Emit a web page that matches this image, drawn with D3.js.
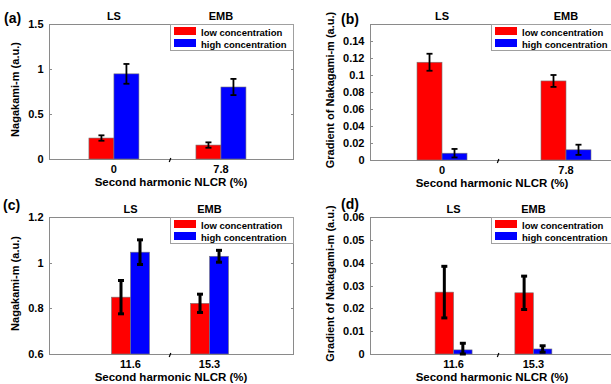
<!DOCTYPE html>
<html>
<head>
<meta charset="utf-8">
<script src="https://cdn.jsdelivr.net/npm/d3@7"></script>
<style>
  body { margin: 0; background: #fff; }
  svg { display: block; font-family: "Liberation Sans", Arial, sans-serif; font-weight: bold; }
</style>
</head>
<body>
<svg id="chart" width="611" height="384"></svg>
<script>
// shared labels
var groups = ["LS", "EMB"];
var seriesNames = ["low concentration", "high concentration"];
var colors = ["#ff0000", "#0000ff"];

// (a) Nagakami-m
var aTicks = ["0", "7.8"];
var aLow = [0.233, 0.155], aLowErr = [0.03, 0.03];
var aHigh = [0.946, 0.800], aHighErr = [0.11, 0.09];
var aY = [0, 0.5, 1, 1.5];

// (b) gradient of Nakagami-m
var bTicks = ["0", "7.8"];
var bLow = [0.115, 0.093], bLowErr = [0.01, 0.007];
var bHigh = [0.008, 0.012], bHighErr = [0.005, 0.006];
var bY = [0, 0.02, 0.04, 0.06, 0.08, 0.1, 0.12, 0.14];

// (c) Nagakami-m
var cTicks = ["11.6", "15.3"];
var cLow = [0.849, 0.822], cLowErr = [0.073, 0.04];
var cHigh = [1.046, 1.028], cHighErr = [0.054, 0.026];
var cY = [0.6, 0.8, 1, 1.2];

// (d) gradient of Nakagami-m
var dTicks = ["11.6", "15.3"];
var dLow = [0.0271, 0.0268], dLowErr = [0.0113, 0.0073];
var dHigh = [0.0018, 0.0022], dHighErr = [0.0029, 0.0014];
var dY = [0, 0.01, 0.02, 0.03, 0.04, 0.05, 0.06];

var svg = d3.select("#chart");
var axisGray = "#8a8a8a";

var panels = [
  { tag: "(a)", tagX: 4, tagY: 23, l: 49, t: 24, r: 293, b: 159, dom: [0, 1.5], yt: aY, ticks: aTicks,
    low: aLow, lowErr: aLowErr, high: aHigh, highErr: aHighErr, pad: 0.64, align: 0.474, bw: 25,
    ew: 1.8, ylab: "Nagakami-m (a.u.)", ylabX: 15, brk: 0.496 },
  { tag: "(b)", tagX: 341, tagY: 24, l: 370, t: 24, r: 614, b: 160, dom: [0, 0.16], yt: bY, ticks: bTicks,
    low: bLow, lowErr: bLowErr, high: bHigh, highErr: bHighErr, pad: 0.484, align: 0.6, bw: 25,
    ew: 1.8, ylab: "Gradient of Nakagami-m (a.u.)", ylabX: 330, brk: 0.525 },
  { tag: "(c)", tagX: 3, tagY: 210, l: 49, t: 217, r: 293, b: 354, dom: [0.6, 1.2], yt: cY, ticks: cTicks,
    low: cLow, lowErr: cLowErr, high: cHigh, highErr: cHighErr, pad: 1.044, align: 0.494, bw: 19,
    ew: 3, ylab: "Nagakami-m (a.u.)", ylabX: 15, brk: 0.496 },
  { tag: "(d)", tagX: 341, tagY: 209, l: 370, t: 217, r: 614, b: 354, dom: [0, 0.06], yt: dY, ticks: dTicks,
    low: dLow, lowErr: dLowErr, high: dHigh, highErr: dHighErr, pad: 1.029, align: 0.509, bw: 18.5,
    ew: 3, ylab: "Gradient of Nakagami-m (a.u.)", ylabX: 330, brk: 0.525 }
];

panels.forEach(drawPanel);

function drawPanel(p) {
  var g = svg.append("g");
  var x = d3.scalePoint().domain(groups).range([p.l, p.r]).padding(p.pad).align(p.align);
  var y = d3.scaleLinear().domain(p.dom).range([p.b, p.t]);

  // frame
  g.append("rect")
    .attr("x", p.l + 0.5).attr("y", p.t + 0.5)
    .attr("width", p.r - p.l).attr("height", p.b - p.t)
    .attr("fill", "none").attr("stroke", axisGray).attr("stroke-width", 1);

  // y axis, ticks inward on both sides
  var yAxis = d3.axisLeft(y).tickValues(p.yt).tickFormat(d3.format("~g")).tickSize(0).tickPadding(6);
  var ya = g.append("g").attr("transform", "translate(" + (p.l + 0.5) + ",0)").call(yAxis);
  ya.select(".domain").remove();
  ya.selectAll("text").attr("font-size", 11).attr("font-weight", "bold")
    .attr("font-family", "'Liberation Sans', Arial, sans-serif").attr("fill", "#000");
  g.selectAll(".ytk").data(p.yt).enter().append("path")
    .attr("d", function(d) {
      var yy = Math.round(y(d)) + 0.5;
      return "M" + p.l + "," + yy + "h3M" + (p.r + 1) + "," + yy + "h-3";
    })
    .attr("stroke", axisGray);

  // bars
  var rows = [];
  groups.forEach(function(grp, i) {
    rows.push({ g: grp, s: 0, v: p.low[i], e: p.lowErr[i] });
    rows.push({ g: grp, s: 1, v: p.high[i], e: p.highErr[i] });
  });
  var base = y(p.dom[0]);
  g.selectAll(".bar").data(rows).enter().append("rect")
    .attr("x", function(d) { return d.s === 0 ? x(d.g) - p.bw : x(d.g); })
    .attr("y", function(d) { return y(d.v); })
    .attr("width", p.bw)
    .attr("height", function(d) { return base - y(d.v); })
    .attr("fill", function(d) { return colors[d.s]; })
    .attr("stroke", "#777").attr("stroke-width", 0.6);

  // error bars
  var eb = g.selectAll(".err").data(rows).enter().append("g")
    .attr("stroke", "#000").attr("stroke-width", p.ew);
  function cx(d) { return d.s === 0 ? x(d.g) - p.bw / 2 : x(d.g) + p.bw / 2; }
  eb.append("line")
    .attr("x1", cx).attr("x2", cx)
    .attr("y1", function(d) { return y(d.v + d.e); })
    .attr("y2", function(d) { return Math.min(base, y(d.v - d.e)); });
  eb.append("line")
    .attr("x1", function(d) { return cx(d) - 3; }).attr("x2", function(d) { return cx(d) + 3; })
    .attr("y1", function(d) { return y(d.v + d.e); }).attr("y2", function(d) { return y(d.v + d.e); });
  eb.append("line")
    .attr("x1", function(d) { return cx(d) - 3; }).attr("x2", function(d) { return cx(d) + 3; })
    .attr("y1", function(d) { return Math.min(base, y(d.v - d.e)); })
    .attr("y2", function(d) { return Math.min(base, y(d.v - d.e)); });

  // axis break mark
  var bx = p.l + (p.r - p.l) * p.brk;
  g.append("line")
    .attr("x1", bx - 0.8).attr("x2", bx + 0.8)
    .attr("y1", p.b + 3).attr("y2", p.b - 1)
    .attr("stroke", "#000").attr("stroke-width", 1.2);

  // x tick labels
  g.selectAll(".xl").data(groups).enter().append("text")
    .attr("x", function(d) { return x(d); })
    .attr("y", p.b + 13.5)
    .attr("text-anchor", "middle").attr("font-size", 11)
    .text(function(d, i) { return p.ticks[i]; });

  // group names above
  g.selectAll(".gn").data(groups).enter().append("text")
    .attr("x", function(d) { return x(d); })
    .attr("y", p.t - 4)
    .attr("text-anchor", "middle").attr("font-size", 11)
    .text(function(d) { return d; });

  // axis titles
  g.append("text")
    .attr("x", (p.l + p.r) / 2).attr("y", p.b + 27)
    .attr("text-anchor", "middle").attr("font-size", 11.5)
    .text("Second harmonic NLCR (%)");
  g.append("text")
    .attr("transform", "translate(" + (p.ylabX + 4) + "," + ((p.t + p.b) / 2 - 2) + ")rotate(-90)")
    .attr("text-anchor", "middle").attr("font-size", 11)
    .text(p.ylab);

  // panel tag
  g.append("text")
    .attr("x", p.tagX).attr("y", p.tagY)
    .attr("font-size", 14)
    .text(p.tag);

  // legend
  var lx = p.r - 123, ly = p.t;
  var lg = g.append("g").attr("transform", "translate(" + lx + "," + ly + ")");
  lg.append("rect").attr("x", 0.5).attr("y", 0.5).attr("width", 123).attr("height", 26)
    .attr("fill", "#fff").attr("stroke", "#a0a0a0");
  var items = lg.selectAll(".li").data(seriesNames).enter().append("g")
    .attr("transform", function(d, i) { return "translate(4," + (3 + i * 12) + ")"; });
  items.append("rect").attr("width", 22).attr("height", 8)
    .attr("fill", function(d, i) { return colors[i]; });
  items.append("text").attr("x", 27).attr("y", 8.5)
    .attr("font-size", 9.5).text(function(d) { return d; });
}
</script>
</body>
</html>
